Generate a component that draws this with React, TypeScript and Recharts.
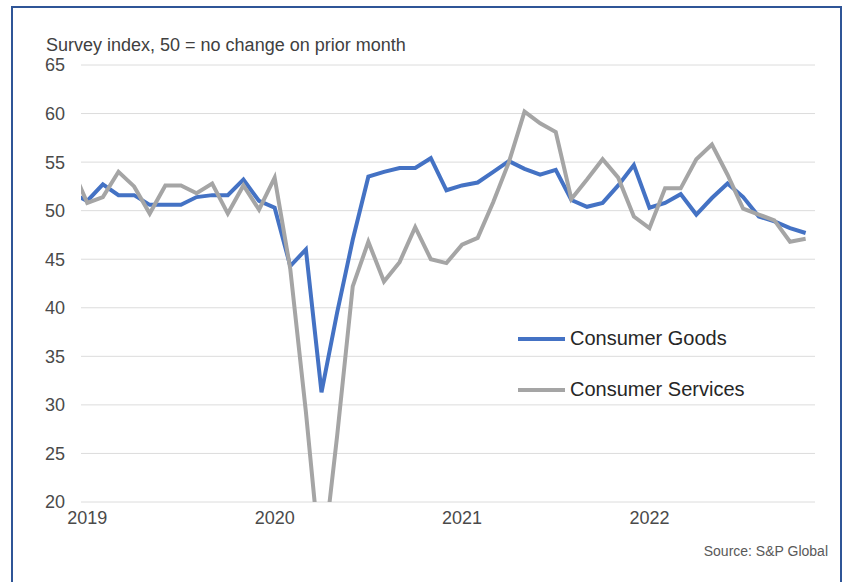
import { LineChart, Line, XAxis, YAxis, CartesianGrid, Legend } from 'recharts'

// Dec 2018 .. Nov 2022, monthly
const months = [
  'Dec 2018',
  'Jan 2019', 'Feb 2019', 'Mar 2019', 'Apr 2019', 'May 2019', 'Jun 2019', 'Jul 2019', 'Aug 2019', 'Sep 2019', 'Oct 2019', 'Nov 2019', 'Dec 2019',
  'Jan 2020', 'Feb 2020', 'Mar 2020', 'Apr 2020', 'May 2020', 'Jun 2020', 'Jul 2020', 'Aug 2020', 'Sep 2020', 'Oct 2020', 'Nov 2020', 'Dec 2020',
  'Jan 2021', 'Feb 2021', 'Mar 2021', 'Apr 2021', 'May 2021', 'Jun 2021', 'Jul 2021', 'Aug 2021', 'Sep 2021', 'Oct 2021', 'Nov 2021', 'Dec 2021',
  'Jan 2022', 'Feb 2022', 'Mar 2022', 'Apr 2022', 'May 2022', 'Jun 2022', 'Jul 2022', 'Aug 2022', 'Sep 2022', 'Oct 2022', 'Nov 2022',
]

const consumerGoods = [
  51.8,
  51.0, 52.7, 51.6, 51.6, 50.6, 50.6, 50.6, 51.4, 51.6, 51.6, 53.2, 51.0,
  50.3, 44.3, 46.0, 31.3, 39.5, 47.0, 53.5, 54.0, 54.4, 54.4, 55.4, 52.1,
  52.6, 52.9, 54.0, 55.1, 54.3, 53.7, 54.2, 51.1, 50.4, 50.8, 52.6, 54.7,
  50.3, 50.8, 51.7, 49.6, 51.3, 52.8, 51.4, 49.4, 48.9, 48.2, 47.7,
]

const consumerServices = [
  54.5,
  50.8, 51.4, 54.0, 52.5, 49.7, 52.6, 52.6, 51.8, 52.8, 49.7, 52.6, 50.1,
  53.4, 44.0, 29.3, 12.7, 26.8, 42.2, 46.8, 42.7, 44.7, 48.3, 45.0, 44.6,
  46.5, 47.2, 50.9, 55.0, 60.2, 59.0, 58.1, 51.2, 53.2, 55.3, 53.4, 49.4,
  48.2, 52.3, 52.3, 55.3, 56.8, 53.7, 50.2, 49.6, 49.0, 46.8, 47.1,
]

const years = ['2019', '2020', '2021', '2022']
const yTicks = [20, 25, 30, 35, 40, 45, 50, 55, 60, 65]

const data = months.map((m, i) => ({
  month: m,
  idx: i - 1,
  goods: consumerGoods[i],
  services: consumerServices[i],
}))

const FONT = '"Liberation Sans", Arial, sans-serif'

export default function App() {
  return (
    <div style={{ position: 'absolute', left: 0, top: 0, width: 843, height: 582, background: '#fff', overflow: 'hidden', fontFamily: FONT }}>
      <div style={{ position: 'absolute', left: 11, top: 6, width: 827, height: 620, border: '2px solid #2f5597' }} />
      <div style={{ position: 'absolute', left: 46, top: 35, fontSize: 18, color: '#404040', whiteSpace: 'nowrap' }}>
        Survey index, 50 = no change on prior month
      </div>
      <div style={{ position: 'absolute', right: 15, top: 543, fontSize: 14, color: '#595959', whiteSpace: 'nowrap' }}>
        Source: S&amp;P Global
      </div>
      <LineChart width={843} height={582} data={data} margin={{ top: 65, right: 28, bottom: 40, left: 21 }} style={{ position: 'absolute', left: 0, top: 0 }}>
        <CartesianGrid vertical={false} stroke="#dcdcdc" />
        <XAxis
          dataKey="idx"
          type="number"
          domain={[-0.4, 46.6]}
          ticks={[0, 12, 24, 36]}
          tickFormatter={(v: number) => years[v / 12]}
          allowDataOverflow
          axisLine={false}
          tickLine={false}
          tickSize={0}
          tickMargin={9}
          height={40}
          tick={{ fontSize: 18, fill: '#4a4a4a', fontFamily: FONT }}
        />
        <YAxis
          domain={[20, 65]}
          ticks={yTicks}
          allowDataOverflow
          axisLine={false}
          tickLine={false}
          tickSize={0}
          tickMargin={16}
          width={60}
          tick={{ fontSize: 18, fill: '#4a4a4a', fontFamily: FONT }}
        />
        <Legend
          layout="vertical"
          align="center"
          verticalAlign="middle"
          wrapperStyle={{ left: 518, top: 313, width: 260 }}
          content={({ payload }: any) => (
            <div>
              {(payload || []).map((p: any) => (
                <div key={p.value} style={{ display: 'flex', alignItems: 'center', height: 51 }}>
                  <span style={{ display: 'inline-block', width: 47, height: 4, background: p.color }} />
                  <span style={{ marginLeft: 5, fontSize: 20, color: '#262626', fontFamily: FONT }}>{p.value}</span>
                </div>
              ))}
            </div>
          )}
        />
        <Line type="linear" dataKey="goods" name="Consumer Goods" stroke="#4472c4" strokeWidth={4} dot={false} isAnimationActive={false} />
        <Line type="linear" dataKey="services" name="Consumer Services" stroke="#a5a5a5" strokeWidth={4} dot={false} isAnimationActive={false} />
      </LineChart>
    </div>
  )
}
